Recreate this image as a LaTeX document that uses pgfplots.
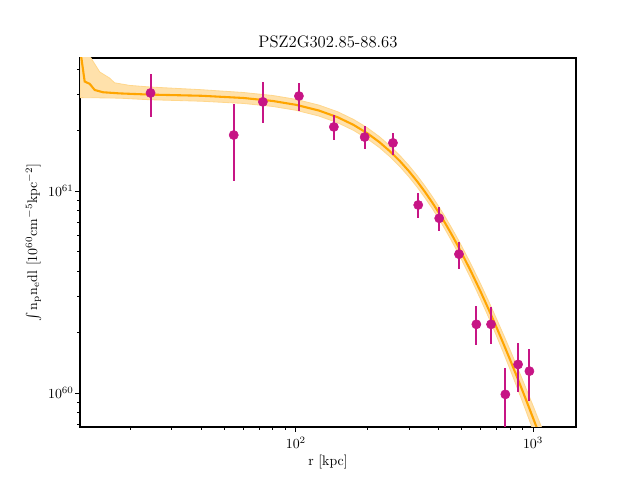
\documentclass[border=0pt]{standalone}
\usepackage{pgfplots}
\pgfplotsset{compat=1.18}
\usepgfplotslibrary{fillbetween}
\definecolor{mvr}{RGB}{199,21,133}
\definecolor{mplorange}{RGB}{255,165,0}
\begin{document}
\begin{tikzpicture}
\begin{axis}[
  scale only axis, width=357.12pt, height=265.68pt,
  xmode=log, ymode=log,
  xmin=12.3, xmax=1517, ymin=6.8e59, ymax=4.55e61,
  log basis x=10, log basis y=10,
  tick align=outside, xtick pos=bottom, ytick pos=left,
  major tick length=3.5pt, minor tick length=2pt,
  every tick/.style={black, line width=0.6pt},
  axis line style={line width=0.8pt},
  tick label style={font=\normalsize},
  yticklabel style={xshift=2.5pt},
  title={PSZ2G302.85-88.63},
  title style={font=\large, yshift=-2pt},
  xlabel={r [kpc]},
  ylabel={$\int\mathrm{n_pn_edl}$ [$10^{60}\mathrm{cm^{-5}kpc^{-2}}$]},
  label style={font=\normalsize},
  xlabel style={yshift=2pt},
  ylabel style={yshift=-2pt},
  clip=true,
]
\addplot[name path=up, draw=none, forget plot] coordinates {
(12.3,5.0e61) (13.6,4.6e61) (14.9,3.88e61) (16.4,3.62e61) (17.2,3.43e61)
(19.9,3.33e61) (24.2,3.27e61) (40,3.17e61) (60,3.071e61) (80,2.967e61)
(100,2.841e61) (125,2.661e61) (150,2.466e61) (175,2.260e61) (200,2.055e61)
(225,1.857e61) (250,1.667e61) (275,1.4944e61) (300,1.334e61) (325,1.1894e61)
(350,1.059e61) (375,9.427e60) (400,8.390e60) (425,7.480e60) (450,6.672e60)
(475,5.962e60) (500,5.335e60) (550,4.295e60) (600,3.480e60) (650,2.844e60)
(700,2.342e60) (750,1.949e60) (800,1.634e60) (850,1.379e60) (900,1.173e60)
(950,1.0035e60) (1000,8.645e59) (1050,7.488e59) (1100,6.522e59)
};
\addplot[name path=lo, draw=none, forget plot] coordinates {
(12.3,2.897e61) (15,2.89e61) (18,2.88e61) (24,2.83e61) (40,2.781e61)
(60,2.712e61) (80,2.620e61) (100,2.509e61) (125,2.350e61) (150,2.177e61)
(175,1.996e61) (200,1.815e61) (225,1.640e61) (250,1.473e61) (275,1.3166e61)
(300,1.173e61) (325,1.0432e61) (350,9.267e60) (375,8.229e60) (400,7.308e60)
(425,6.485e60) (450,5.758e60) (475,5.122e60) (500,4.562e60) (550,3.639e60)
(600,2.922e60) (650,2.366e60) (700,1.930e60) (750,1.584e60) (800,1.310e60)
(850,1.090e60) (900,9.149e59) (950,7.719e59) (1000,6.557e59) (1050,5.602e59)
(1100,4.813e59)
};
\addplot[fill=mplorange!33, draw=mplorange!45, line width=0.6pt] fill between[of=up and lo];
\addplot[mplorange, line width=1.5pt, mark=none] coordinates {
(12.3,4.9e61) (12.47,4.54e61) (12.87,3.48e61) (13.51,3.39e61) (14.19,3.16e61)
(15.38,3.08e61) (18.09,3.04e61) (24,3.00e61) (40,2.959e61) (60,2.886e61)
(80,2.788e61) (100,2.670e61) (125,2.501e61) (150,2.317e61) (175,2.124e61)
(200,1.931e61) (225,1.745e61) (250,1.567e61) (275,1.4027e61) (300,1.251e61)
(325,1.1139e61) (350,9.906e60) (375,8.808e60) (400,7.830e60) (425,6.965e60)
(450,6.198e60) (475,5.526e60) (500,4.933e60) (550,3.953e60) (600,3.189e60)
(650,2.594e60) (700,2.126e60) (750,1.757e60) (800,1.463e60) (850,1.226e60)
(900,1.036e60) (950,8.801e59) (1000,7.529e59) (1050,6.477e59) (1100,5.603e59)
};
\addplot[only marks, mark=*, mark size=3.3pt, color=mvr,
  error bars/.cd, y dir=both, y explicit, error mark=none,
  error bar style={line width=1.5pt, color=mvr}]
  table[x=x, y=y, y error plus=ep, y error minus=em] {
x y ep em
24.4 3.055e61 0.738e61 0.732e61
54.7 1.892e61 0.806e61 0.770e61
72.6 2.761e61 0.706e61 0.588e61
103 2.951e61 0.477e61 0.462e61
144.6 2.075e61 0.302e61 0.289e61
195 1.849e61 0.250e61 0.235e61
256.6 1.730e61 0.206e61 0.223e61
328 8.53e60 1.24e60 1.18e60
402 7.33e60 0.97e60 0.98e60
487 4.87e60 0.70e60 0.75e60
576.6 2.19e60 0.51e60 0.46e60
665 2.19e60 0.48e60 0.44e60
764 9.86e59 3.44e59 5.36e59
864.5 1.387e60 0.383e60 0.377e60
965 1.285e60 0.365e60 0.369e60
};
\end{axis}
\path (current axis.south west) ++(-57.6pt,-38.16pt) coordinate (bbA);
\path (current axis.north east) ++(46.08pt,41.76pt) coordinate (bbB);
\path (bbA) rectangle (bbB);
\end{tikzpicture}
\end{document}
